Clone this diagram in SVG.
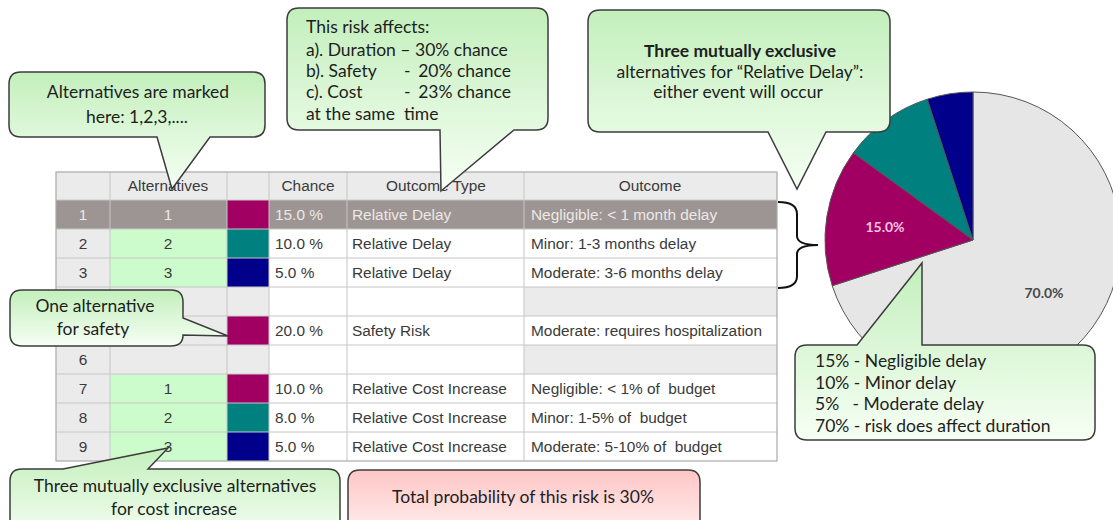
<svg xmlns="http://www.w3.org/2000/svg" width="1113" height="520" viewBox="0 0 1113 520">
<defs>
<linearGradient id="gg" x1="0" y1="0" x2="0" y2="1">
<stop offset="0" stop-color="#c3efbc"/>
<stop offset="1" stop-color="#f6fff4"/>
</linearGradient>
<linearGradient id="pg" x1="0" y1="0" x2="0" y2="1">
<stop offset="0" stop-color="#ffc6c6"/>
<stop offset="1" stop-color="#fff2f2"/>
</linearGradient>
<style>
.t{font-family:"Liberation Sans",Arial,sans-serif;font-size:15.4px;fill:#3a3a3a}
.tc{text-anchor:middle}
.sel{fill:#ece8e6}
.c{font-family:Lato,"Liberation Sans",sans-serif;font-size:17.5px;fill:#1e1e1e}
.m{text-anchor:middle}
.co{stroke:#3c3c3c;stroke-width:1.5;fill:url(#gg)}
.cp{stroke:#3c3c3c;stroke-width:1.5;fill:url(#pg)}
.gl{stroke:#c6c6c6;stroke-width:1}
.hd{fill:#ebebeb}
.gr{fill:#ebebeb}
.gs{fill:#9d9593}
.gn{fill:#ccfccc}
.wh{fill:#ffffff}
.mg{fill:#a10062}
.tl{fill:#00807f}
.nv{fill:#00008b}
.pie{stroke:#555;stroke-width:1}
</style>
</defs>
<rect width="1113" height="520" fill="#ffffff"/>

<g id="table">
<rect class="hd" x="56" y="172" width="721" height="28"/>
<rect class="gs" x="56" y="200" width="54" height="29"/>
<rect class="gr" x="56" y="229" width="54" height="232"/>
<rect class="gs" x="110" y="200" width="117" height="29"/>
<rect class="gn" x="110" y="229" width="117" height="58"/>
<rect class="gr" x="110" y="287" width="117" height="87"/>
<rect class="gn" x="110" y="374" width="117" height="87"/>
<rect class="mg" x="227" y="200" width="42" height="29"/>
<rect class="tl" x="227" y="229" width="42" height="29"/>
<rect class="nv" x="227" y="258" width="42" height="29"/>
<rect class="gr" x="227" y="287" width="42" height="29"/>
<rect class="mg" x="227" y="316" width="42" height="29"/>
<rect class="gr" x="227" y="345" width="42" height="29"/>
<rect class="mg" x="227" y="374" width="42" height="29"/>
<rect class="tl" x="227" y="403" width="42" height="29"/>
<rect class="nv" x="227" y="432" width="42" height="29"/>
<rect class="gs" x="269" y="200" width="508" height="29"/>
<rect class="wh" x="269" y="229" width="508" height="232"/>
<rect class="gr" x="524" y="287" width="253" height="29"/>
<rect class="gr" x="524" y="345" width="253" height="29"/>
<g class="gl">
<line x1="56" y1="200" x2="777" y2="200"/>
<line x1="56" y1="229" x2="777" y2="229"/>
<line x1="56" y1="258" x2="777" y2="258"/>
<line x1="56" y1="287" x2="777" y2="287"/>
<line x1="56" y1="316" x2="777" y2="316"/>
<line x1="56" y1="345" x2="777" y2="345"/>
<line x1="56" y1="374" x2="777" y2="374"/>
<line x1="56" y1="403" x2="777" y2="403"/>
<line x1="56" y1="432" x2="777" y2="432"/>
<line x1="110" y1="172" x2="110" y2="461"/>
<line x1="227" y1="172" x2="227" y2="461"/>
<line x1="269" y1="172" x2="269" y2="461"/>
<line x1="347" y1="172" x2="347" y2="461"/>
<line x1="524" y1="172" x2="524" y2="461"/>
</g>
<rect x="56" y="172" width="721" height="289" fill="none" stroke="#a9a9a9" stroke-width="1.2"/>
<text class="t tc" x="168" y="191">Alternatives</text>
<text class="t tc" x="308" y="191">Chance</text>
<text class="t tc" x="436" y="191">Outcome Type</text>
<text class="t tc" x="650" y="191">Outcome</text>
<text class="t tc sel" x="83" y="220">1</text>
<text class="t tc sel" x="168" y="220">1</text>
<text class="t sel" x="275" y="220">15.0 %</text>
<text class="t sel" x="352" y="220">Relative Delay</text>
<text class="t sel" x="531" y="220">Negligible: &lt; 1 month delay</text>
<text class="t tc" x="83" y="249">2</text>
<text class="t tc" x="168" y="249">2</text>
<text class="t" x="275" y="249">10.0 %</text>
<text class="t" x="352" y="249">Relative Delay</text>
<text class="t" x="531" y="249">Minor: 1-3 months delay</text>
<text class="t tc" x="83" y="278">3</text>
<text class="t tc" x="168" y="278">3</text>
<text class="t" x="275" y="278">5.0 %</text>
<text class="t" x="352" y="278">Relative Delay</text>
<text class="t" x="531" y="278">Moderate: 3-6 months delay</text>
<text class="t" x="275" y="336">20.0 %</text>
<text class="t" x="352" y="336">Safety Risk</text>
<text class="t" x="531" y="336">Moderate: requires hospitalization</text>
<text class="t tc" x="83" y="365">6</text>
<text class="t tc" x="83" y="394">7</text>
<text class="t tc" x="168" y="394">1</text>
<text class="t" x="275" y="394">10.0 %</text>
<text class="t" x="352" y="394">Relative Cost Increase</text>
<text class="t" x="531" y="394" xml:space="preserve">Negligible: &lt; 1% of  budget</text>
<text class="t tc" x="83" y="423">8</text>
<text class="t tc" x="168" y="423">2</text>
<text class="t" x="275" y="423">8.0 %</text>
<text class="t" x="352" y="423">Relative Cost Increase</text>
<text class="t" x="531" y="423" xml:space="preserve">Minor: 1-5% of  budget</text>
<text class="t tc" x="83" y="452">9</text>
<text class="t tc" x="168" y="452">3</text>
<text class="t" x="275" y="452">5.0 %</text>
<text class="t" x="352" y="452">Relative Cost Increase</text>
<text class="t" x="531" y="452" xml:space="preserve">Moderate: 5-10% of  budget</text>
</g>

<g id="pie">
<path class="pie" fill="#e6e6e6" d="M973,240 L832.2,285.7 A148,148 0 1 0 973,92 Z"/>
<path class="pie" fill="#00807f" d="M973,240 L927.3,99.2 A148,148 0 0 0 853.3,153 Z"/>
<path class="pie" fill="#00008b" d="M973,240 L973,92 A148,148 0 0 0 927.3,99.2 Z"/>
<path class="pie" fill="#a10062" d="M973,240 L853.3,153 A148,148 0 0 0 832.2,285.7 Z"/>
<text x="885" y="232" font-family="Lato,'Liberation Sans',sans-serif" font-size="14" font-weight="bold" fill="#f3c3e2" text-anchor="middle">15.0%</text>
<text x="1044" y="298" font-family="Lato,'Liberation Sans',sans-serif" font-size="14" font-weight="bold" fill="#4a4a4a" text-anchor="middle">70.0%</text>
</g>

<g id="connectors">
<path d="M778,202 Q797,202 797,214 L797,236 Q797,245 818,245 Q797,245 797,254 L797,276 Q797,288 778,288" fill="none" stroke="#111" stroke-width="2"/>
</g>

<g id="callout-alternatives">
<path class="co" d="M21,72 H253 Q265,72 265,84 V125 Q265,137 253,137 H210 L172,189 L157,137 H21 Q9,137 9,125 V84 Q9,72 21,72 Z"/>
<text class="c m" x="138" y="98">Alternatives are marked</text>
<text class="c m" x="137" y="123">here: 1,2,3,....</text>
</g>

<g id="callout-affects">
<path class="co" d="M299,8 H536 Q548,8 548,20 V118 Q548,130 536,130 H514 L441,191 L440,130 H299 Q287,130 287,118 V20 Q287,8 299,8 Z"/>
<text class="c" x="306" y="33">This risk affects:</text>
<text class="c" x="306" y="56">a). Duration – 30% chance</text>
<text class="c" x="306" y="77">b). Safety</text>
<text class="c" x="404" y="77">-</text>
<text class="c" x="511" y="77" text-anchor="end">20% chance</text>
<text class="c" x="306" y="98">c). Cost</text>
<text class="c" x="404" y="98">-</text>
<text class="c" x="511" y="98" text-anchor="end">23% chance</text>
<text class="c" x="306" y="120" xml:space="preserve">at the same  time</text>
</g>

<g id="callout-exclusive-delay">
<path class="co" d="M600,10 H878 Q890,10 890,22 V120 Q890,132 878,132 H826 L797,189 L768,132 H600 Q588,132 588,120 V22 Q588,10 600,10 Z"/>
<text class="c m" x="740" y="57" font-weight="bold">Three mutually exclusive</text>
<text class="c m" x="740" y="78">alternatives for “Relative Delay”:</text>
<text class="c m" x="738" y="98">either event will occur</text>
</g>

<g id="callout-safety">
<path class="co" d="M22,290 H171 Q183,290 183,302 V318 L228,336 L183,335 Q183,346 171,346 H22 Q10,346 10,334 V302 Q10,290 22,290 Z"/>
<text class="c m" x="95" y="312">One alternative</text>
<text class="c m" x="93" y="335">for safety</text>
</g>

<g id="callout-cost">
<path class="co" d="M22,469 H63 L168,448 L148,469 H328 Q340,469 340,481 V540 H10 V481 Q10,469 22,469 Z"/>
<text class="c m" x="175" y="492">Three mutually exclusive alternatives</text>
<text class="c m" x="174" y="515">for cost increase</text>
</g>

<g id="callout-total">
<path class="cp" d="M360,470 H688 Q700,470 700,482 V540 H348 V482 Q348,470 360,470 Z"/>
<text class="c m" x="523" y="503">Total probability of this risk is 30%</text>
</g>

<g id="callout-legend">
<path class="co" d="M807,345 H857 L922,263 V345 H1083 Q1095,345 1095,357 V428 Q1095,440 1083,440 H807 Q795,440 795,428 V357 Q795,345 807,345 Z"/>
<text class="c" x="815" y="367">15% - Negligible delay</text>
<text class="c" x="815" y="389">10% - Minor delay</text>
<text class="c" x="815" y="410" xml:space="preserve">5%   - Moderate delay</text>
<text class="c" x="815" y="432">70% - risk does affect duration</text>
</g>
</svg>
